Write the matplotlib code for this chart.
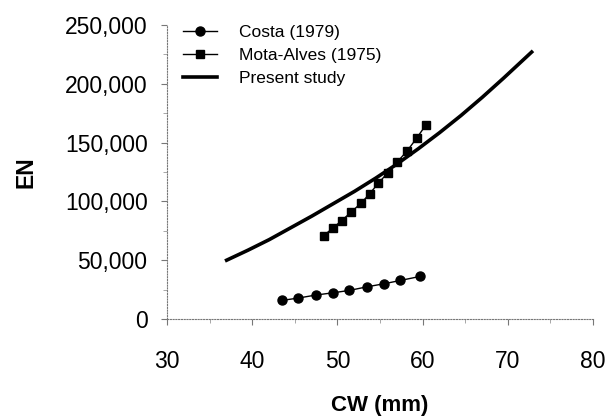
import matplotlib
matplotlib.use("Agg")
import matplotlib.pyplot as plt
from matplotlib.ticker import MultipleLocator, FuncFormatter

plt.rcParams['font.family'] = ['Liberation Sans', 'DejaVu Sans']

costa_cw = [43.5, 45.4, 47.5, 49.5, 51.4, 53.5, 55.5, 57.4, 59.7]
costa_en = [15800, 17800, 20400, 22300, 24300, 27400, 30000, 32800, 36200]

mota_cw = [48.4, 49.5, 50.5, 51.6, 52.8, 53.8, 54.8, 55.9, 57.0, 58.2, 59.3, 60.4]
mota_en = [71000, 77500, 83700, 90800, 98700, 106600, 115500, 124200, 133300, 143100, 153700, 165200]

present_cw = [37.0, 39.5, 42.0, 44.5, 47.0, 49.5, 52.0, 54.5, 57.0, 59.5, 62.0, 64.5, 67.0, 69.5, 72.8]
present_en = [50000, 58500, 67500, 77500, 87500, 98000, 108500, 119800, 131800, 144800,
              158500, 173000, 188500, 204800, 227000]

fig = plt.figure(figsize=(6.09, 4.17), dpi=100)
ax = fig.add_axes([167/609, 1-319/417, (593-167)/609, (319-25)/417])

ax.plot(costa_cw, costa_en, '-o', color='black', lw=1, ms=6.5, label='Costa (1979)')
ax.plot(mota_cw, mota_en, '-s', color='black', lw=1, ms=6, label='Mota-Alves (1975)')
ax.plot(present_cw, present_en, '-', color='black', lw=2.6, label='Present study',
        solid_joinstyle='round')

ax.set_xlim(30, 80)
ax.set_ylim(0, 250000)
ax.xaxis.set_major_locator(MultipleLocator(10))
ax.xaxis.set_minor_locator(MultipleLocator(5))
ax.yaxis.set_major_locator(MultipleLocator(50000))
ax.yaxis.set_minor_locator(MultipleLocator(25000))
ax.yaxis.set_major_formatter(FuncFormatter(lambda v, p: f"{int(v):,}"))

for s in ['top', 'right']:
    ax.spines[s].set_visible(False)
for s in ['left', 'bottom']:
    ax.spines[s].set_linestyle((0, (1, 1.5)))
    ax.spines[s].set_color('#777777')
    ax.spines[s].set_linewidth(0.8)

ax.tick_params(axis='both', which='major', direction='out', color='#777777', length=4, width=0.8, labelsize=16.5)
ax.tick_params(axis='both', which='minor', direction='out', color='#999999', length=3, width=0.6)
ax.tick_params(axis='y', which='major', pad=10)
ax.tick_params(axis='x', which='major', pad=18)

ax.set_ylabel('EN', fontsize=16.5, fontweight='bold', labelpad=20)
ax.set_xlabel('CW (mm)', fontsize=16, fontweight='bold', labelpad=16)

leg = ax.legend(loc='upper left', bbox_to_anchor=(183/609, 1-25/417), bbox_transform=fig.transFigure,
                frameon=False, fontsize=12.5, handlelength=1.95, handletextpad=1.3,
                labelspacing=0.45, borderpad=0, borderaxespad=0)

fig.savefig('out.png', dpi=100)
